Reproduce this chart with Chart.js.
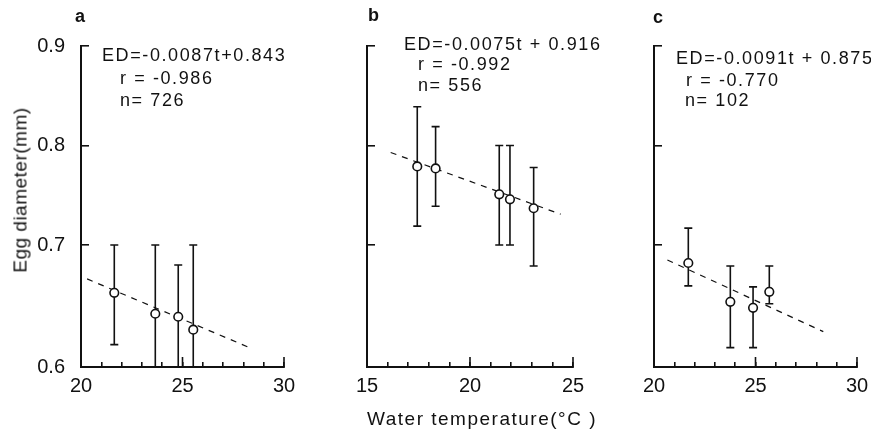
<!DOCTYPE html>
<html>
<head>
<meta charset="utf-8">
<script src="https://cdn.jsdelivr.net/npm/chart.js@4.4.0/dist/chart.umd.min.js"></script>
<style>
body { margin: 0; background: #fff; width: 871px; height: 431px; position: relative; overflow: hidden;
       font-family: "Liberation Sans", Arial, sans-serif; color: #111; }
canvas { position: absolute; top: 0; }
.txt { position: absolute; white-space: nowrap; line-height: 1; font-size: 18px; letter-spacing: 1.6px; }
.lab { position: absolute; font-weight: bold; font-size: 18px; line-height: 1; }
</style>
</head>
<body>
<canvas id="panelA" width="300" height="431" style="left:0"></canvas>
<canvas id="panelB" width="290" height="431" style="left:300px"></canvas>
<canvas id="panelC" width="281" height="431" style="left:590px"></canvas>

<div class="lab" style="left:75px; top:7px">a</div>
<div class="lab" style="left:368px; top:6px">b</div>
<div class="lab" style="left:653px; top:8px">c</div>

<div class="txt" style="left:102px; top:46px">ED=-0.0087t+0.843</div>
<div class="txt" style="left:120px; top:69px">r = -0.986</div>
<div class="txt" style="left:120px; top:91px">n= 726</div>

<div class="txt" style="left:404px; top:35px">ED=-0.0075t + 0.916</div>
<div class="txt" style="left:418px; top:55px">r = -0.992</div>
<div class="txt" style="left:418px; top:76px">n= 556</div>

<div class="txt" style="left:676px; top:49px">ED=-0.0091t + 0.875</div>
<div class="txt" style="left:686px; top:71px">r = -0.770</div>
<div class="txt" style="left:685px; top:91px">n= 102</div>

<div class="txt" style="left:20px; top:190px; font-size:19px; letter-spacing:0.5px; transform:translate(-50%,-50%) rotate(-90deg)">Egg diameter(mm)</div>
<div class="txt" style="left:482px; top:418px; font-size:19px; letter-spacing:1.5px; transform:translate(-50%,-50%)">Water temperature(°C )</div>

<script>
// y axis: drawn bottom sits a little below 0.6 but is labelled 0.6
var Y_MIN = 0.5775;
var yTicks = [Y_MIN, 0.7, 0.8, 0.9];
var yTickLabels = ['0.6', '0.7', '0.8', '0.9'];

// panel a
var tempA = [21.64, 23.66, 24.79, 25.53];
var eggA = [0.652, 0.631, 0.628, 0.615];
var hiA = [0.700, 0.700, 0.680, 0.700];
var loA = [0.600, 0.5775, 0.5775, 0.5775];
var fitTempA = [20.3, 28.3];
var fitEggA = [0.666, 0.597];

// panel b
var tempB = [17.44, 18.33, 21.42, 21.94, 23.09];
var eggB = [0.779, 0.777, 0.751, 0.746, 0.737];
var hiB = [0.839, 0.819, 0.800, 0.800, 0.778];
var loB = [0.719, 0.739, 0.700, 0.700, 0.679];
var fitTempB = [16.15, 24.4];
var fitEggB = [0.793, 0.731];

// panel c
var tempC = [21.69, 23.76, 24.88, 25.68];
var eggC = [0.682, 0.643, 0.637, 0.653];
var hiC = [0.717, 0.679, 0.658, 0.679];
var loC = [0.659, 0.597, 0.597, 0.641];
var fitTempC = [20.66, 28.34];
var fitEggC = [0.685, 0.613];

var INK = '#111';
var tickFont = { family: '"Liberation Sans", Arial, sans-serif', size: 20 };

function toXY(xs, ys) {
    var out = [];
    for (var i = 0; i < xs.length; i++) {
        out.push({ x: xs[i], y: ys[i] });
    }
    return out;
}

var errorBars = {
    id: 'errorBars',
    beforeDatasetsDraw: function (chart, args, opts) {
        var ctx = chart.ctx, xs = chart.scales.x, ys = chart.scales.y;
        ctx.save();
        ctx.strokeStyle = INK;
        ctx.lineWidth = 1.6;
        for (var i = 0; i < opts.x.length; i++) {
            var px = xs.getPixelForValue(opts.x[i]);
            var top = ys.getPixelForValue(opts.hi[i]);
            var bot = ys.getPixelForValue(opts.lo[i]);
            ctx.beginPath();
            ctx.moveTo(px, top); ctx.lineTo(px, bot);
            ctx.moveTo(px - 4, top); ctx.lineTo(px + 4, top);
            ctx.moveTo(px - 4, bot); ctx.lineTo(px + 4, bot);
            ctx.stroke();
        }
        ctx.restore();
    }
};

// longer inward ticks at the labelled x values
var majorTicks = {
    id: 'majorTicks',
    afterDraw: function (chart) {
        var ctx = chart.ctx, xs = chart.scales.x;
        var bottom = chart.chartArea.bottom;
        ctx.save();
        ctx.strokeStyle = INK;
        ctx.lineWidth = 1.6;
        xs.ticks.forEach(function (t) {
            if (t.value % 5 === 0 && t.value > xs.min) {
                var px = xs.getPixelForValue(t.value);
                ctx.beginPath();
                ctx.moveTo(px, bottom);
                ctx.lineTo(px, bottom - 10);
                ctx.stroke();
            }
        });
        ctx.restore();
    }
};

function makePanel(id, xmin, xmax, temps, eggs, hi, lo, fitT, fitE, leftW, rightPad, showY) {
    'use strict';
    var ctx = document.getElementById(id);
    return new Chart(ctx, {
        type: 'scatter',
        data: {
            datasets: [
                {
                    data: toXY(temps, eggs),
                    pointRadius: 4.3,
                    pointBorderWidth: 1.6,
                    pointBackgroundColor: '#fff',
                    pointBorderColor: INK
                },
                {
                    type: 'line',
                    data: toXY(fitT, fitE),
                    borderColor: INK,
                    borderWidth: 1.2,
                    borderDash: [6, 6],
                    pointRadius: 0,
                    fill: false
                }
            ]
        },
        options: {
            responsive: false,
            animation: false,
            layout: { padding: { top: 46, right: rightPad, left: 0, bottom: 0 } },
            plugins: {
                legend: { display: false },
                tooltip: { enabled: false },
                errorBars: { x: temps, hi: hi, lo: lo }
            },
            scales: {
                x: {
                    type: 'linear', min: xmin, max: xmax,
                    afterFit: function (s) {
                        s.height = 64;
                        s.paddingLeft = 0;
                        s.paddingRight = 0;
                    },
                    ticks: {
                        stepSize: 1, autoSkip: false, maxRotation: 0,
                        color: INK, font: tickFont, padding: 12,
                        callback: function (v) { return v % 5 === 0 ? String(v) : ''; }
                    },
                    grid: { drawOnChartArea: false, tickLength: -5, color: INK, lineWidth: 1.6 },
                    border: { color: INK, width: 2 }
                },
                y: {
                    type: 'linear', min: Y_MIN, max: 0.9,
                    afterFit: function (s) { s.width = leftW; },
                    afterBuildTicks: function (s) {
                        s.ticks = yTicks.map(function (v) { return { value: v }; });
                    },
                    ticks: {
                        display: showY, color: INK, font: tickFont, padding: 24,
                        callback: function (v, i) { return yTickLabels[i]; }
                    },
                    grid: { drawOnChartArea: false, tickLength: -8, color: INK, lineWidth: 1.6 },
                    border: { color: INK, width: 2 }
                }
            }
        },
        plugins: [errorBars, majorTicks]
    });
}

makePanel('panelA', 20, 30, tempA, eggA, hiA, loA, fitTempA, fitEggA, 81, 16, true);
makePanel('panelB', 15, 25, tempB, eggB, hiB, loB, fitTempB, fitEggB, 67, 17, false);
makePanel('panelC', 20, 30, tempC, eggC, hiC, loC, fitTempC, fitEggC, 64, 14, false);
</script>
</body>
</html>
